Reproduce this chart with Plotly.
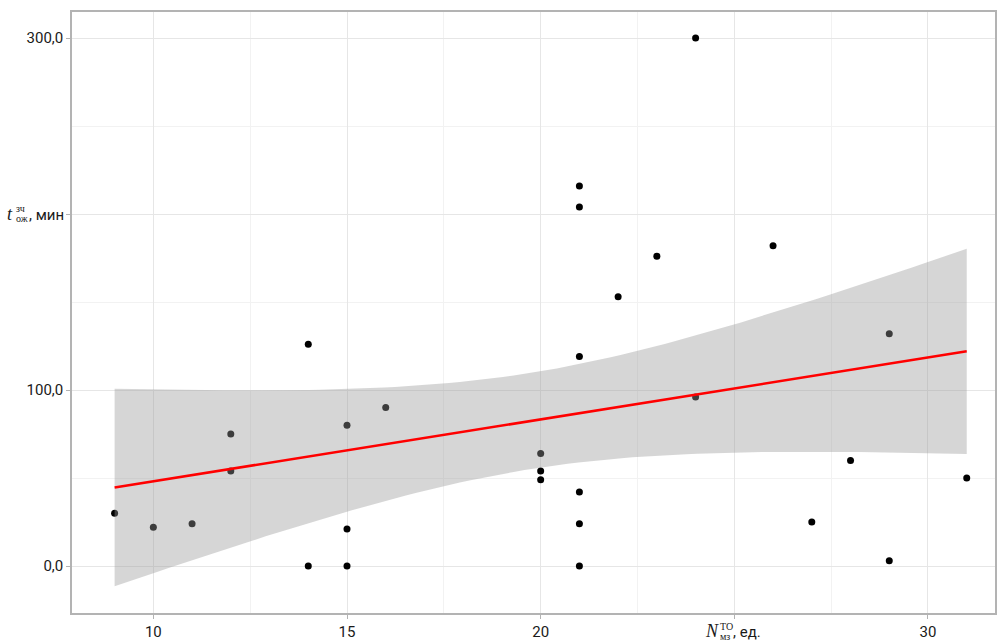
import numpy as np
import plotly.graph_objects as go

# Data
n_mz = [9, 10, 11, 12, 12, 14, 14, 15, 15, 15, 16, 20, 20, 20,
        21, 21, 21, 21, 21, 21, 22, 23, 24, 24, 26, 27, 28, 29, 29, 31]
t_oz = [30, 22, 24, 75, 54, 126, 0, 80, 21, 0, 90, 64, 54, 49,
        216, 204, 119, 42, 24, 0, 153, 176, 300, 96, 182, 25, 60, 132, 3, 50]

x_tickvals = [10, 15, 20, 25, 30]
x_ticktext = ["10", "15", "20", "", "30"]      # 25 carries the axis title
y_tickvals = [0, 100, 200, 300]
y_ticktext = ["0,0", "100,0", "", "300,0"]     # 200 carries the axis title

T_QUANTILE = 2.0484  # 97.5% Student t, df = 28

x = np.array(n_mz, dtype=float)
y = np.array(t_oz, dtype=float)
n = len(x)
b1, b0 = np.polyfit(x, y, 1)
resid = y - (b0 + b1 * x)
s = np.sqrt(np.sum(resid ** 2) / (n - 2))
xm = x.mean()
sxx = np.sum((x - xm) ** 2)
xg = np.linspace(x.min(), x.max(), 80)
yg = b0 + b1 * xg
se = s * np.sqrt(1 / n + (xg - xm) ** 2 / sxx)
upper = yg + T_QUANTILE * se
lower = yg - T_QUANTILE * se

fig = go.Figure()
fig.add_trace(go.Scatter(x=x, y=y, mode="markers",
                         marker=dict(color="black", size=7), hoverinfo="skip"))
fig.add_trace(go.Scatter(x=np.concatenate([xg, xg[::-1]]),
                         y=np.concatenate([upper, lower[::-1]]),
                         fill="toself", fillcolor="rgba(153,153,153,0.4)",
                         line=dict(width=0), mode="lines", hoverinfo="skip"))
fig.add_trace(go.Scatter(x=xg, y=yg, mode="lines",
                         line=dict(color="#ff0000", width=2.5), hoverinfo="skip"))

SANS = "Roboto, Arial, sans-serif"
SERIF = "Liberation Serif, DejaVu Serif, serif"
TXT = "#1a1a1a"


def label(text, xref, xv, yref, yv, xanchor, xshift, yshift, size, family=SANS):
    fig.add_annotation(text=text, xref=xref, x=xv, yref=yref, y=yv,
                       xanchor=xanchor, yanchor="middle", xshift=xshift, yshift=yshift,
                       showarrow=False, font=dict(family=family, size=size, color=TXT))


# y-axis title at the 200 tick: t with stacked sup/sub
ytv = y_tickvals[2]
label("<i>t</i>", "paper", 0, "y", ytv, "center", -62, 0, 18, SERIF)
label("зч", "paper", 0, "y", ytv, "left", -58, 6, 10, SERIF)
label("ож", "paper", 0, "y", ytv, "left", -58, -4, 10, SERIF)
label(", мин", "paper", 0, "y", ytv, "right", -6, -1, 15)

# x-axis title at the 25 tick: N with stacked sup/sub
xtv = x_tickvals[3]
label("<i>N</i>", "x", xtv, "paper", 0, "center", -22, -18, 18, SERIF)
label("ТО", "x", xtv, "paper", 0, "left", -16, -13, 10, SERIF)
label("мз", "x", xtv, "paper", 0, "left", -16, -23, 10, SERIF)
label(", ед.", "x", xtv, "paper", 0, "left", -3, -19, 15)

grid = "#e6e6e6"
fig.update_layout(
    width=997, height=641, showlegend=False,
    margin=dict(l=72, r=2, t=12, b=28),
    plot_bgcolor="white", paper_bgcolor="white",
    font=dict(family=SANS, size=15, color=TXT),
)
fig.update_xaxes(range=[7.9, 31.73], tickvals=x_tickvals, ticktext=x_ticktext,
                 automargin=False,
                 showgrid=True, gridcolor=grid, gridwidth=1,
                 minor=dict(dtick=2.5, tick0=7.5, showgrid=True, gridcolor="#f2f2f2", gridwidth=1),
                 zeroline=False, showline=True, mirror=True, linecolor="#b3b3b3", linewidth=1.5,
                 ticks="outside", ticklen=4, tickcolor="#b3b3b3")
fig.update_yaxes(range=[-26.7, 314.8], tickvals=y_tickvals, ticktext=y_ticktext,
                 automargin=False,
                 showgrid=True, gridcolor=grid, gridwidth=1,
                 minor=dict(dtick=50, tick0=0, showgrid=True, gridcolor="#f2f2f2", gridwidth=1),
                 zeroline=False, showline=True, mirror=True, linecolor="#b3b3b3", linewidth=1.5,
                 ticks="outside", ticklen=4, tickcolor="#b3b3b3")

fig.write_html("out.html", config={"displayModeBar": False},
               post_script="document.body.style.margin='0';document.body.style.overflow='hidden';")
